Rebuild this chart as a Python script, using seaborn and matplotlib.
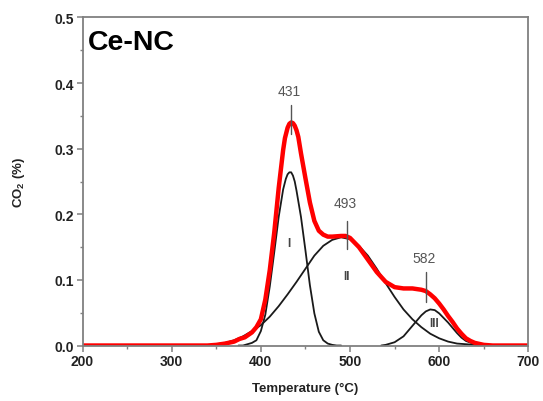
import matplotlib
matplotlib.use('Agg')
import matplotlib.pyplot as plt
import seaborn as sns
from matplotlib.ticker import MultipleLocator

# measured CO2 signal (red curve)
temp_total = [200, 340, 350, 360, 370, 376, 382, 390, 395, 400, 405, 410, 415, 420, 425,
              427, 430, 432, 434, 436, 438, 440, 442, 445, 450, 455, 460, 465, 470, 475,
              480, 490, 495, 500, 510, 520, 530, 540, 550, 560, 570, 580, 585, 590, 595,
              600, 605, 610, 615, 620, 625, 630, 635, 640, 650, 660, 700]
co2_total = [0.000, 0.000, 0.001, 0.003, 0.006, 0.010, 0.0125, 0.020, 0.028, 0.040, 0.070,
             0.115, 0.172, 0.240, 0.298, 0.316, 0.332, 0.338, 0.340, 0.339, 0.335, 0.328,
             0.318, 0.293, 0.255, 0.218, 0.190, 0.175, 0.169, 0.166, 0.166, 0.167, 0.167,
             0.164, 0.150, 0.131, 0.112, 0.097, 0.089, 0.087, 0.087, 0.085, 0.083, 0.078,
             0.072, 0.064, 0.055, 0.045, 0.036, 0.026, 0.018, 0.011, 0.007, 0.004, 0.001,
             0.000, 0.000]

# fitted peak I
temp_p1 = [375, 380, 385, 390, 395, 400, 405, 410, 415, 420, 425, 428, 430, 432, 434, 436,
           438, 440, 445, 450, 455, 460, 465, 470, 475, 480, 485, 490]
co2_p1 = [0.000, 0.000, 0.002, 0.004, 0.008, 0.022, 0.047, 0.090, 0.142, 0.196, 0.238,
          0.254, 0.261, 0.264, 0.264, 0.259, 0.250, 0.236, 0.196, 0.145, 0.092, 0.049,
          0.021, 0.008, 0.003, 0.001, 0.000, 0.000]

# fitted peak II
temp_p2 = [350, 360, 370, 380, 390, 400, 410, 420, 430, 440, 450, 460, 470, 480, 490, 500,
           510, 520, 530, 540, 550, 560, 570, 580, 590, 600, 610, 620, 630, 640, 650]
co2_p2 = [0.002, 0.004, 0.008, 0.014, 0.022, 0.031, 0.044, 0.060, 0.078, 0.097, 0.117,
          0.137, 0.152, 0.161, 0.165, 0.162, 0.152, 0.137, 0.117, 0.095, 0.074, 0.055,
          0.040, 0.028, 0.018, 0.011, 0.006, 0.003, 0.002, 0.001, 0.000]

# fitted peak III
temp_p3 = [535, 540, 550, 560, 570, 575, 580, 585, 590, 595, 600, 605, 610, 615, 620, 625,
           630, 640, 650]
co2_p3 = [0.000, 0.001, 0.005, 0.014, 0.030, 0.038, 0.046, 0.052, 0.055, 0.054, 0.049,
          0.042, 0.035, 0.027, 0.019, 0.012, 0.007, 0.002, 0.000]

peak_labels = ['431', '493', '582']
component_names = ['I', 'II', 'III']

sns.set_style('ticks')
plt.rcParams['font.family'] = ['Liberation Sans', 'DejaVu Sans']

fig = plt.figure(figsize=(5.43, 4.02), dpi=100)
ax = fig.add_axes([0.152, 0.138, 0.821, 0.816])

for t, c in [(temp_p1, co2_p1), (temp_p2, co2_p2), (temp_p3, co2_p3)]:
    sns.lineplot(x=t, y=c, ax=ax, color='#1a1a1a', linewidth=1.3, solid_joinstyle='round')
sns.lineplot(x=temp_total, y=co2_total, ax=ax, color='#ff0000', linewidth=3.2,
             solid_joinstyle='round', solid_capstyle='round')

ax.set_xlim(200, 700)
ax.set_ylim(0, 0.5)
ax.xaxis.set_major_locator(MultipleLocator(100))
ax.xaxis.set_minor_locator(MultipleLocator(50))
ax.yaxis.set_major_locator(MultipleLocator(0.1))
ax.yaxis.set_minor_locator(MultipleLocator(0.05))
ax.yaxis.set_major_formatter(matplotlib.ticker.FormatStrFormatter('%.1f'))

for s in ax.spines.values():
    s.set_visible(True)
    s.set_color('#808080')
    s.set_linewidth(1.3)
ax.tick_params(which='major', direction='out', length=4, width=1.1, color='#808080',
               labelsize=10, labelcolor='#222222', pad=2)
ax.tick_params(which='minor', direction='out', length=2.5, width=1.0, color='#808080')
for lab in ax.get_xticklabels() + ax.get_yticklabels():
    lab.set_fontweight('bold')

ax.set_xlabel('Temperature (°C)', fontsize=9.5, fontweight='bold', color='#222222', labelpad=10)
ax.set_ylabel('CO$_\\mathregular{2}$ (%)', fontsize=9.5, fontweight='bold', color='#222222',
              labelpad=20)

ax.text(0.012, 0.965, 'Ce-NC', transform=ax.transAxes, fontsize=20.5, fontweight='bold',
        ha='left', va='top', color='black')

# peak position markers
marks = [(434, 0.322, 0.367, 0.388), (497, 0.147, 0.190, 0.218), (585, 0.067, 0.112, 0.133)]
for lab, (xm, y0, y1, yt) in zip(peak_labels, marks):
    ax.plot([xm, xm], [y0, y1], color='#555555', linewidth=1.0)
    ax.text(xm - 2, yt, lab, ha='center', va='center', fontsize=10, color='#555555')

for lab, (xn, yn) in zip(component_names, [(431, 0.157), (496, 0.106), (594, 0.035)]):
    ax.text(xn, yn, lab, ha='center', va='center', fontsize=8.5, fontweight='bold',
            color='#444444')

fig.savefig('out.png', dpi=100)
